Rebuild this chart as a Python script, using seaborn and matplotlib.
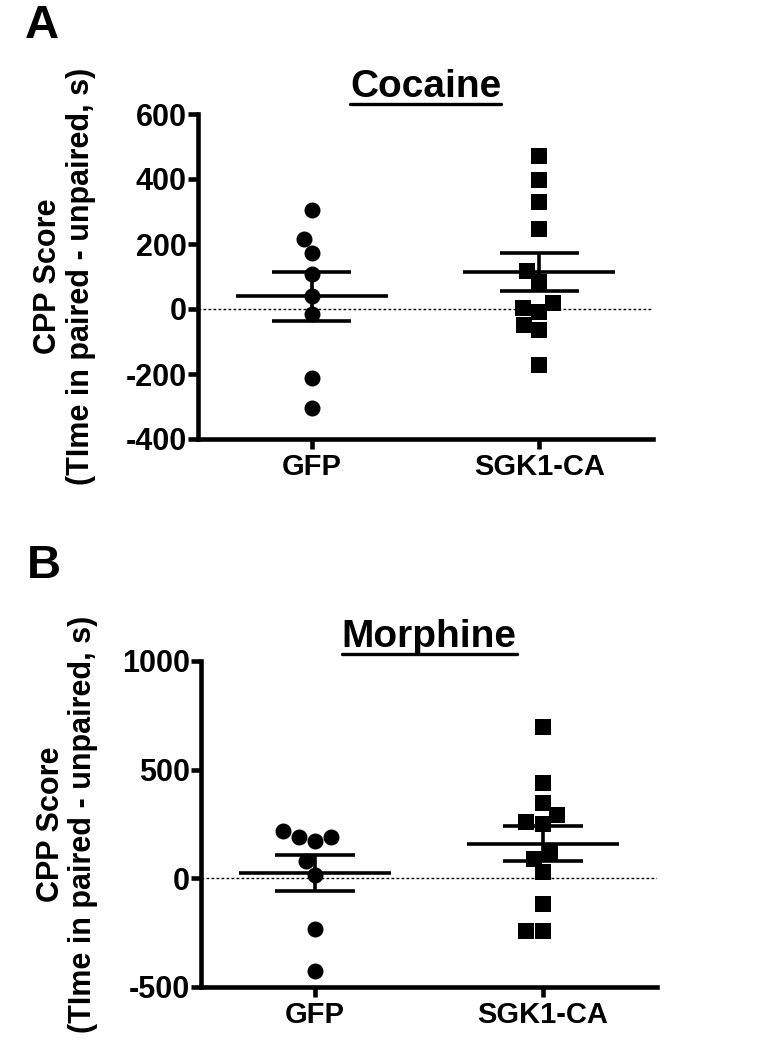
import numpy as np
import pandas as pd
import matplotlib
matplotlib.use('Agg')
import matplotlib.pyplot as plt
from matplotlib.lines import Line2D
import seaborn as sns

# values (CPP score, s)
groups = ['GFP', 'SGK1-CA']
cocaine_gfp = [305, 215, 172, 108, 41, -15, -212, -305]
cocaine_sgk = [472, 398, 328, 246, 116, 82, 18, 3, -10, -48, -66, -171]
morphine_gfp = [216, 190, 190, 173, 78, 16, -233, -425]
morphine_sgk = [696, 439, 347, 293, 258, 250, 117, 91, 28, -118, -244, -244]

cocaine_ticks = [-400, -200, 0, 200, 400, 600]
morphine_ticks = [-500, 0, 500, 1000]

ylabel = 'CPP Score\n(TIme in paired - unpaired, s)'

sns.set_theme(style='ticks')
plt.rcParams['font.family'] = ['Liberation Sans', 'DejaVu Sans']
plt.rcParams.update({
    'font.weight': 'bold',
    'axes.labelweight': 'bold',
    'axes.titleweight': 'bold',
    'text.color': 'black',
    'axes.labelcolor': 'black',
    'axes.edgecolor': 'black',
    'xtick.color': 'black',
    'ytick.color': 'black',
    'axes.unicode_minus': False,
})

W, H = 769, 1050
fig = plt.figure(figsize=(W / 100, H / 100), dpi=100)


def px_rect(left, top, right, bottom):
    return [left / W, 1 - bottom / H, (right - left) / W, (bottom - top) / H]


def draw_panel(ax, gfp, sgk, title, ticks, title_pad):
    df = pd.DataFrame({'group': ['GFP'] * len(gfp) + ['SGK1-CA'] * len(sgk),
                       'score': gfp + sgk})

    # dotted zero line behind everything
    ax.axhline(0, color='black', lw=1.0, ls=(0, (2, 1.6)), zorder=0)

    for grp, mk in zip(groups, ['o', 's']):
        sns.swarmplot(data=df[df['group'] == grp], x='group', y='score', order=groups,
                      marker=mk, color='black', size=11.5, linewidth=0, ax=ax, zorder=3)

    # mean +/- SEM
    stats = df.groupby('group')['score'].agg(['mean', 'sem']).reindex(groups)
    for i, (m, se) in enumerate(zip(stats['mean'], stats['sem'])):
        ax.hlines(m, i - 0.333, i + 0.333, color='black', lw=2.6, zorder=4)
        ax.hlines([m - se, m + se], i - 0.174, i + 0.174, color='black', lw=2.6, zorder=4)
        ax.vlines(i, m - se, m + se, color='black', lw=2.6, zorder=4)

    ax.set_xlim(-0.5, 1.5)
    ax.set_ylim(ticks[0], ticks[-1])
    ax.set_yticks(ticks)
    sns.despine(ax=ax)
    for s in ['left', 'bottom']:
        ax.spines[s].set_linewidth(3.3)
    ax.tick_params(width=3.3, length=7, color='black')
    ax.tick_params(axis='y', labelsize=22, pad=1)
    ax.tick_params(axis='x', labelsize=21, pad=3)
    ax.set_xlabel('')
    ax.set_ylabel(ylabel, fontsize=22, linespacing=1.1)
    ax.yaxis.set_label_coords(-0.225, 0.5)
    return ax.set_title(title, fontsize=28, pad=title_pad)


ax_a = fig.add_axes(px_rect(198, 114, 653, 439))
ax_b = fig.add_axes(px_rect(201, 661, 657, 987))

t_a = draw_panel(ax_a, cocaine_gfp, cocaine_sgk, 'Cocaine', cocaine_ticks, 12)
t_b = draw_panel(ax_b, morphine_gfp, morphine_sgk, 'Morphine', morphine_ticks, 10)

fig.text(25 / W, 1 - 38 / H, 'A', fontsize=34, ha='left', va='baseline')
fig.text(27 / W, 1 - 578 / H, 'B', fontsize=34, ha='left', va='baseline')

# underline the titles
fig.canvas.draw()
renderer = fig.canvas.get_renderer()
for t in [t_a, t_b]:
    bb = t.get_window_extent(renderer)
    y = (bb.y0 + 1.5) / H
    fig.add_artist(Line2D([bb.x0 / W, bb.x1 / W], [y, y], color='black', lw=2.4,
                          transform=fig.transFigure))

fig.savefig('out.png', dpi=100)
